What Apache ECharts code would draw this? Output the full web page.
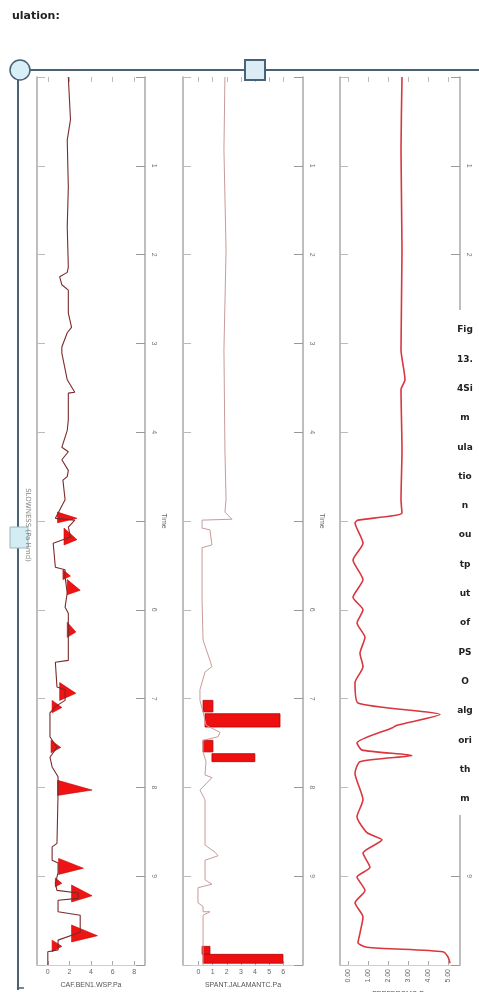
<!DOCTYPE html>
<html><head><meta charset="utf-8">
<script src="https://cdn.jsdelivr.net/npm/echarts@6/dist/echarts.min.js"></script>
<style>html,body{margin:0;padding:0;background:#fff}#c{width:479px;height:992px}</style>
</head><body><div id="c"></div>
<script>
// depth (vertical) axis ticks
const depthMin = 0, depthMax = 100, depthStep = 10;

// Panel 1: [value, depth]
const p1Line = [[1.9,0],[2.1,4.8],[1.8,7.1],[1.9,12.4],[1.8,16.9],[1.9,21.4],[1.8,22.0],[1.1,22.5],[1.3,23.4],[1.9,24.0],[1.9,26.6],[2.2,28.2],[1.8,28.8],[1.3,30.4],[1.3,31.1],[1.8,34.1],[2.5,35.5],[1.9,35.6],[1.9,38.6],[1.8,39.8],[1.3,41.7],[1.9,42.2],[1.3,43.1],[1.9,44.3],[1.8,45.0],[1.4,45.4],[1.6,47.6],[0.7,49.7],[2.5,49.9],[1.9,50.7],[2.1,51.8],[0.5,52.5],[0.7,55.2],[1.6,55.5],[1.6,56.3],[1.8,58.1],[1.6,59.7],[1.9,60.4],[1.9,63.1],[1.9,65.7],[0.7,65.9],[0.85,68.7],[1.6,69.0],[1.6,70.2],[0.7,70.9],[0.2,71.6],[0.2,74.3],[0.85,75.5],[0.2,76.6],[0.4,77.7],[0.95,78.8],[0.95,80.6],[0.85,86.3],[0.4,86.7],[0.4,88.2],[0.95,88.5],[0.95,89.6],[0.7,90.8],[0.85,91.6],[2.8,91.9],[2.8,92.5],[0.95,92.7],[0.95,94.0],[3.0,94.4],[3.0,96.3],[0.95,97.2],[0.95,98.3],[0.0,98.5],[0.0,100]];
// Panel 1 filled spikes: [depthTop, depthPeak, depthBottom, baseValue, peakValue]
const p1Spikes = [[49.0,49.7,50.2,0.9,2.7],[50.8,52.1,52.7,1.5,2.7],[55.5,56.2,56.6,1.4,2.1],[56.6,57.8,58.3,1.8,3.0],[61.4,62.5,63.1,1.8,2.6],[68.2,69.4,70.2,1.1,2.6],[70.2,71.0,71.6,0.4,1.3],[74.7,75.5,76.1,0.3,1.2],[79.2,80.3,80.9,0.9,4.1],[88.0,89.1,89.8,1.0,3.3],[90.2,90.8,91.2,0.7,1.3],[91.0,92.2,92.9,2.2,4.1],[95.5,96.7,97.4,2.2,4.6],[97.2,97.9,98.5,0.4,1.3]];

// Panel 2: [value, depth]
const p2Line = [[1.87,0],[1.8,8.2],[1.95,19.5],[1.8,30.7],[1.87,42.0],[1.95,47.6],[1.87,49.0],[2.37,49.8],[0.25,49.9],[0.25,50.8],[0.81,51.0],[0.95,52.7],[0.25,53.0],[0.25,58.9],[0.32,63.4],[0.81,65.7],[0.95,66.4],[0.46,67.0],[0.1,69.0],[0.1,70.2],[0.32,71.5],[0.53,73.0],[1.52,73.8],[1.38,74.3],[0.32,74.7],[0.32,76.0],[0.53,77.1],[0.46,78.6],[0.95,78.9],[0.1,80.3],[0.46,81.4],[0.46,86.5],[1.17,87.3],[1.38,87.7],[0.46,88.2],[0.46,90.4],[0.95,90.9],[-0.04,91.3],[-0.04,93.0],[0.32,93.4],[0.32,94.0],[0.81,94.0],[0.32,94.4],[0.32,97.2],[0.32,100]];
// Panel 2 filled blocks: [depthTop, depthBottom, baseValue, endValue]
const p2Blocks = [[70.2,71.5,0.32,1.02],[71.7,73.2,0.46,5.77],[74.7,76.0,0.32,1.02],[76.2,77.1,0.95,3.99],[97.9,98.8,0.25,0.81],[98.8,99.8,0.32,5.98]];

// Panel 3: [value, depth]
const p3Line = [[2.7,0],[2.65,8.2],[2.7,19.5],[2.65,30.7],[2.85,34.1],[2.65,35.2],[2.7,42.0],[2.65,47.6],[2.7,49.1],[0.5,49.9],[0.35,50.2],[0.75,52.5],[0.25,54.4],[0.75,56.6],[0.25,58.6],[0.75,60.0],[0.45,61.5],[0.85,63.1],[0.6,64.9],[0.75,66.4],[0.35,68.2],[0.5,70.5],[4.6,71.8],[2.45,73.0],[2.2,73.3],[0.45,75.0],[0.7,75.8],[3.2,76.4],[0.6,77.1],[0.35,78.4],[0.75,81.4],[0.45,83.3],[0.95,85.1],[1.7,85.9],[0.75,87.4],[1.1,89.0],[0.45,90.1],[0.85,91.6],[0.35,93.0],[0.75,94.6],[0.6,96.4],[0.5,97.5],[0.95,98.0],[4.75,98.5],[5.0,99.1],[5.1,99.8]];

// x-axis tick values and names
const p1Ticks = [0,2,4,6,8];
const p2Ticks = [0,1,2,3,4,5,6];
const p3Ticks = [0,1,2,3,4,5];
const p3TickLabels = ['0.00','1.00','2.00','3.00','4.00','5.00'];
const axisNames = ['CAF.BEN1.WSP.Pa','SPANT.JALAMANTC.Pa','PERFBROMO.Pa'];
const sideWords = ['Fig','13.','4Si','m','ula','tio','n','ou','tp','ut','of','PS','O','alg','ori','th','m'];

const xRanges = [[-1,9],[-1.1,7.4],[-0.4,5.6]];
const tickSets = [p1Ticks,p2Ticks,p3Ticks];

const chart = echarts.init(document.getElementById('c'), null, {renderer:'canvas'});

const grids = [
  {left:37, top:77, width:108, height:888, outerBoundsMode:'none', containLabel:false},
  {left:183, top:77, width:120, height:888, outerBoundsMode:'none', containLabel:false},
  {left:340, top:77, width:120, height:888, outerBoundsMode:'none', containLabel:false}
];

const xAxes = [], yAxes = [];
for (let i=0;i<3;i++){
  xAxes.push({
    gridIndex:i, type:'value', position:'bottom', min:xRanges[i][0], max:xRanges[i][1],
    axisLine:{show:true, onZero:false, lineStyle:{color:'#cfcfcf'}},
    axisTick:{show:true, inside:true, length:4, customValues:tickSets[i], lineStyle:{color:'#aaa'}},
    axisLabel:{customValues:tickSets[i], fontSize:7, color:'#666', margin:4,
      rotate: i===2 ? 90 : 0,
      formatter: i===2 ? (v)=>p3TickLabels[p3Ticks.indexOf(Math.round(v))] || '' : null},
    splitLine:{show:false},
    name:axisNames[i], nameLocation:'middle', nameGap: i===2 ? 25 : 17,
    nameTextStyle:{fontSize:7, color:'#555'}
  });
  xAxes.push({
    gridIndex:i, type:'value', position:'top', min:xRanges[i][0], max:xRanges[i][1],
    axisLine:{show:false, onZero:false},
    axisTick:{show:true, inside:true, length:5, customValues:tickSets[i], lineStyle:{color:'#bbb'}},
    axisLabel:{show:false}, splitLine:{show:false}
  });
  yAxes.push({
    gridIndex:i, type:'value', position:'right', inverse:true, min:depthMin, max:depthMax, interval:depthStep,
    axisLine:{show:true, onZero:false, lineStyle:{color:'#a8a8a8', width:1.5}},
    axisTick:{show:true, inside:true, length:9, lineStyle:{color:'#999'}},
    axisLabel:{rotate:-90, fontSize:7, color:'#777', margin:5,
      formatter:(v)=> (v===0||v===50||v===100) ? '' : String(v/10)},
    splitLine:{show:false},
    name:'Time', nameLocation:'middle', nameGap:15, nameRotate:-90,
    nameTextStyle:{fontSize:7, color:'#666'}
  });
  yAxes.push({
    gridIndex:i, type:'value', position:'left', inverse:true, min:depthMin, max:depthMax, interval:depthStep,
    axisLine:{show:true, onZero:false, lineStyle:{color:'#a8a8a8', width:1.5}},
    axisTick:{show:true, inside:true, length:8, lineStyle:{color:'#bbb'}},
    axisLabel:{show:false}, splitLine:{show:false}
  });
}

function spikeRender(params, api){
  const a = api.coord([api.value(3), api.value(0)]);
  const b = api.coord([api.value(4), api.value(1)]);
  const c = api.coord([api.value(3), api.value(2)]);
  return {type:'polygon', shape:{points:[a,b,c]}, style:{fill:'#ee1414', stroke:'#d00000', lineWidth:0.6}};
}
function blockRender(params, api){
  const a = api.coord([api.value(2), api.value(0)]);
  const b = api.coord([api.value(3), api.value(0)]);
  const c = api.coord([api.value(3), api.value(1)]);
  const d = api.coord([api.value(2), api.value(1)]);
  return {type:'polygon', shape:{points:[a,b,c,d]}, style:{fill:'#ee1010', stroke:'#b80000', lineWidth:0.8}};
}

const series = [
  {type:'custom', xAxisIndex:0, yAxisIndex:0, renderItem:spikeRender, data:p1Spikes, encode:{x:[3,4], y:[0,1,2]}, z:2, silent:true},
  {type:'line', xAxisIndex:0, yAxisIndex:0, data:p1Line, showSymbol:false, lineStyle:{color:'#7a2a2a', width:1.1}, z:3},
  {type:'custom', xAxisIndex:2, yAxisIndex:2, renderItem:blockRender, data:p2Blocks, encode:{x:[2,3], y:[0,1]}, z:2, silent:true},
  {type:'line', xAxisIndex:2, yAxisIndex:2, data:p2Line, showSymbol:false, lineStyle:{color:'#c99a9a', width:1}, z:3},
  {type:'line', xAxisIndex:4, yAxisIndex:4, data:p3Line, showSymbol:false, smooth:0.2, lineStyle:{color:'#d9363e', width:1.6}, z:3}
];

const slate = '#4a6275';
const graphic = [
  {type:'text', x:12, y:11, style:{text:'ulation:', font:'bold 11px "DejaVu Sans"', fill:'#222'}},
  {type:'line', shape:{x1:18,y1:70,x2:479,y2:70}, style:{stroke:slate, lineWidth:2}, z:50},
  {type:'line', shape:{x1:18,y1:70,x2:18,y2:990}, style:{stroke:slate, lineWidth:2}, z:50},
  {type:'line', shape:{x1:18,y1:988,x2:24,y2:988}, style:{stroke:slate, lineWidth:1.5}, z:50},
  {type:'circle', shape:{cx:20,cy:70,r:10}, style:{fill:'#d9eff7', stroke:slate, lineWidth:1.5}, z:51},
  {type:'rect', shape:{x:245,y:60,width:20,height:20}, style:{fill:'#dcecf5', stroke:slate, lineWidth:2}, z:51},
  {type:'rect', shape:{x:10,y:527,width:18,height:21}, style:{fill:'#d3edf3', stroke:'#9ab8c6', lineWidth:1}, z:51},
  {type:'text', x:28, y:525, rotation:-Math.PI/2, style:{text:'SLOWNESS (Pa Hmd)', font:'7px "DejaVu Sans"', fill:'#888', align:'center', verticalAlign:'middle'}, z:51},
  {type:'rect', shape:{x:449,y:310,width:30,height:505}, style:{fill:'#fff'}, z:60}
];
sideWords.forEach((w,k)=>{
  graphic.push({type:'text', x:465, y:330 + k*29.3, style:{text:w, font:'bold 9px "DejaVu Sans"', fill:'#222', align:'center', verticalAlign:'middle'}, z:61});
});

chart.setOption({
  animation:false,
  backgroundColor:'#fff',
  grid:grids, xAxis:xAxes, yAxis:yAxes, series:series, graphic:graphic
});
</script></body></html>
